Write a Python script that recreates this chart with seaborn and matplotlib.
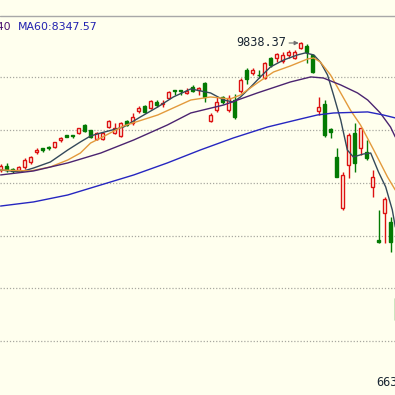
import matplotlib
matplotlib.use("Agg")
import matplotlib.pyplot as plt
import seaborn as sns
import pandas as pd
import numpy as np

# ---- candle data (index = trading day) ----
opens = [8622,8660,8632,8622,8651,8698,8793,8831,8836,8840,8907,8954,8954,8973,9049,9002,8916,8916,9030,8973,
         8945,9087,9068,9182,9230,9211,9267,9249,9305,9381,9381,9353,9410,9381,9448,9087,9192,9315,9192,9286,
         9372,9571,9543,9528,9495,9685,9685,9657,9714,9685,9780,9799,9714,9182,9249,9011,8746,8262,8670,8973,
         8831,8793,8461,7958,8214,8129,7408]
highs = [8679,8689,8641,8660,8736,8755,8831,8831,8850,8888,8935,8954,8954,9021,9059,9002,8983,8983,9097,9068,
         9078,9097,9163,9230,9239,9286,9286,9286,9372,9381,9381,9400,9429,9410,9457,9163,9315,9324,9334,9343,
         9495,9590,9590,9571,9647,9695,9733,9742,9761,9761,9838.37,9818,9714,9315,9286,9021,8831,8603,8973,9068,
         9021,8907,8622,8243,8366,8176,7483]
lows = [8603,8603,8594,8613,8632,8679,8774,8793,8812,8831,8888,8935,8926,8964,8983,8926,8907,8907,9021,8964,
        8935,9040,9049,9163,9163,9201,9220,9220,9296,9334,9334,9343,9362,9334,9267,9078,9173,9249,9173,9106,
        9353,9438,9524,9495,9486,9600,9647,9638,9685,9676,9770,9638,9543,9144,8935,8926,8556,8243,8546,8603,
        8764,8717,8366,7929,7929,7844,6629]
closes = [8660,8622,8613,8651,8717,8746,8812,8812,8826,8888,8926,8935,8945,9021,8992,8935,8973,8973,9087,9021,
          9068,9049,9125,9211,9173,9277,9239,9258,9362,9372,9372,9372,9372,9400,9315,9144,9267,9267,9305,9125,
          9476,9486,9571,9519,9638,9619,9723,9714,9742,9742,9827,9742,9552,9220,8954,8983,8556,8575,8954,8689,
          9021,8736,8556,7939,8347,7939,7199]

# ---- moving-average lines ----
ma5_x = [0,3.3,5.5,8.3,11.2,13.3,15,16.7,20.5,23.3,26.2,28.8,31.7,35,37.2,38.8,40,41.7,43.3,45,47.2,49.5,
         50.8,52.2,53.3,54.5,55.5,56.7,57.8,58.8,60.5,61.7,63,64.2,65.3,65.8]
ma5_y = [8622,8603,8641,8698,8812,8888,8945,8973,9030,9125,9220,9315,9391,9353,9286,9267,9315,9410,9505,9600,
         9666,9714,9733,9714,9647,9524,9334,9097,8812,8746,8774,8783,8603,8461,8243,8081]
ma10_x = [0,5,8.3,11.2,13.3,15,16.7,20.5,26.2,31.7,35,38.3,40,42.8,45.5,48.3,51.2,52.2,53.3,55,56.7,58.3,
          60,62.2,64.5,65.8]
ma10_y = [8622,8613,8651,8717,8783,8878,8926,9040,9144,9286,9315,9296,9334,9448,9552,9609,9676,9685,9647,9524,
          9353,9192,9049,8812,8556,8432]
ma30_x = [0,5.5,11.2,16.7,22.2,27.8,31.7,37.2,42.8,48.3,51.7,53.8,56.7,59.5,61.2,63.3,65,65.8]
ma30_y = [8575,8613,8689,8783,8907,9049,9163,9239,9353,9457,9505,9495,9429,9353,9286,9163,9030,8935]
ma60_x = [0,5.5,11.2,16.7,22.2,27.8,33.3,38.8,44.5,50,52.8,55.5,61.2,63.8,65.8]
ma60_y = [8280,8319,8385,8480,8575,8689,8812,8926,9030,9106,9144,9163,9173,9144,9116]

grid_levels = [7000, 7500, 8000, 8500, 9000, 9500]
high_label = "9838.37"
low_label = "6633.61"
ma_texts = ["MA30:8512.40", "MA60:8347.57"]

BG = "#FFFFEE"
RED = "#DD1111"
GREEN = "#037A03"

sns.set_theme(style="white")
plt.rcParams['font.family'] = ['DejaVu Sans']

fig = plt.figure(figsize=(3.95, 3.95), dpi=100)
fig.patch.set_facecolor(BG)
ax = fig.add_axes([0, 0, 1, 1])
ax.set_facecolor(BG)

for g in grid_levels:
    ax.axhline(g, color="#A8A8A0", lw=0.9, ls=(0, (1, 1.5)), zorder=0)
ax.axhline(10084, color="#A8A8A8", lw=1.0, zorder=0)

idx = np.arange(len(opens))
o = np.array(opens); c = np.array(closes); h = np.array(highs); l = np.array(lows)
up = c >= o
cols = np.where(up, RED, GREEN)

ax.vlines(idx, l, h, colors=cols, lw=1.0, zorder=2)
body_lo = np.minimum(o, c)
body_h = np.maximum(np.abs(c - o), 8)
ax.bar(idx, body_h, bottom=body_lo, width=0.6,
       color=np.where(up, BG, GREEN), edgecolor=cols, linewidth=1.0, zorder=3)

lines = [(ma5_x, ma5_y, "#34495A"), (ma10_x, ma10_y, "#E39A3C"),
         (ma30_x, ma30_y, "#4B2470"), (ma60_x, ma60_y, "#2626C0")]
for xs, ys, col in lines:
    df = pd.DataFrame({"x": xs, "y": ys})
    sns.lineplot(data=df, x="x", y="y", ax=ax, color=col, lw=1.0,
                 sort=False, estimator=None, zorder=4)

ax.text(39.3, 9827, high_label, family="DejaVu Sans Mono", fontsize=8.6,
        color="#1A2633", va="center", ha="left", zorder=5)
ax.annotate("", xy=(49.7, 9827), xytext=(48.1, 9827),
            arrowprops=dict(arrowstyle="-|>", color="#707070", lw=0.8,
                            mutation_scale=6, shrinkA=0, shrinkB=0), zorder=5)
ax.text(62.7, 6610, low_label, family="DejaVu Sans Mono", fontsize=8.6,
        color="#1A2633", va="center", ha="left", zorder=5)

ax.text(1.85, 9979, ma_texts[0], fontsize=7.9, color="#4B1070", va="center", ha="right")
ax.text(2.85, 9979, ma_texts[1], fontsize=7.9, color="#2222B0", va="center", ha="left")

ax.set_xlim(-0.1, 65.75)
ax.set_ylim(6487, 10235)
ax.set_xlabel(""); ax.set_ylabel("")
ax.set_xticks([]); ax.set_yticks([])
for s in ax.spines.values():
    s.set_visible(False)

fig.savefig("out.png", dpi=100, facecolor=BG)
